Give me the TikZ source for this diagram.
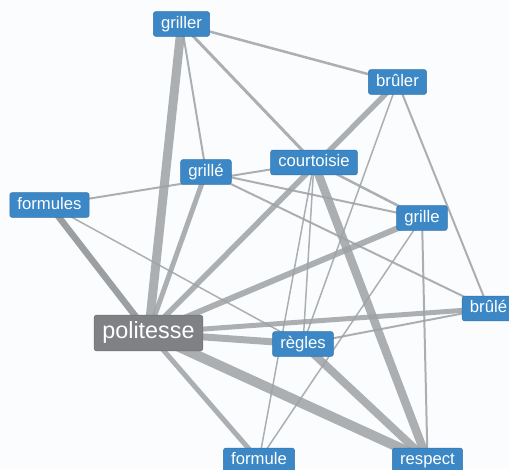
\documentclass[tikz,border=0pt]{standalone}
\usepackage{fontspec}
\setmainfont{Liberation Sans}
\usetikzlibrary{backgrounds}
\definecolor{NodeBlue}{RGB}{60,136,198}
\definecolor{NodeGray}{RGB}{128,129,132}
\definecolor{EdgeGray}{RGB}{158,162,166}
\definecolor{PaperWhite}{RGB}{251,252,253}

\tikzset{
  mot/.style={rectangle, rounded corners=1.5pt, fill=NodeBlue, draw=NodeBlue!85!black,
    line width=0.3pt, text=white, font=\fontsize{9.5}{11}\selectfont,
    inner xsep=4.4pt, inner ysep=0pt, minimum height=14.2pt, text height=6.9pt, text depth=2pt},
  pivot/.style={mot, fill=NodeGray, draw=NodeGray!85!black, font=\fontsize{13.3}{15}\selectfont,
    minimum height=20.4pt, text height=9.6pt, text depth=2.8pt, inner xsep=4.7pt},
  lien/.style={draw=EdgeGray, draw opacity=0.85}
}

\begin{document}
\begin{tikzpicture}[x=0.02cm, y=-0.02cm]

\useasboundingbox (0,0) rectangle (509,469);

% mots
\node[mot] (griller) at (181.5,24) {griller};
\node[mot] (bruler) at (397.5,82) {brûler};
\node[mot] (courtoisie) at (314,162.5) {courtoisie};
\node[mot] (grilleE) at (206,172) {grillé};
\node[mot] (formules) at (49.5,205) {formules};
\node[mot] (grille) at (422,218) {grille};
\node[mot] (brule) at (488.5,308.5) {brûlé};
\node[pivot] (politesse) at (148.5,333) {politesse};
\node[mot] (regles) at (303,344) {règles};
\node[mot] (formule) at (259,460.5) {formule};
\node[mot] (respect) at (427.5,460.5) {respect};

% liens (epaisseur en px)
\begin{scope}[on background layer]
  \fill[PaperWhite] (0,0) rectangle (509,469);
  \foreach \a/\b/\w in {griller/politesse/9, griller/grilleE/2, griller/courtoisie/3,
      griller/bruler/2.5, bruler/politesse/5.5, bruler/regles/1.5, bruler/brule/2,
      courtoisie/formules/2, courtoisie/grille/2.5, courtoisie/respect/8.5,
      courtoisie/regles/1.5, courtoisie/formule/1.5, grilleE/politesse/5,
      grilleE/brule/2, grilleE/grille/2, formules/regles/1.5, politesse/grille/6,
      politesse/brule/5, politesse/regles/7, politesse/respect/10,
      politesse/formule/5, regles/brule/2, regles/respect/8,
      grille/formule/1.5, grille/respect/2}{
    \draw[lien, line width=\w*0.567pt] (\a.center) -- (\b.center);
  }
  \draw[lien, draw=EdgeGray!88!black, line width=6.5*0.567pt] (formules.center) -- (politesse.center);
\end{scope}

\end{tikzpicture}
\end{document}
